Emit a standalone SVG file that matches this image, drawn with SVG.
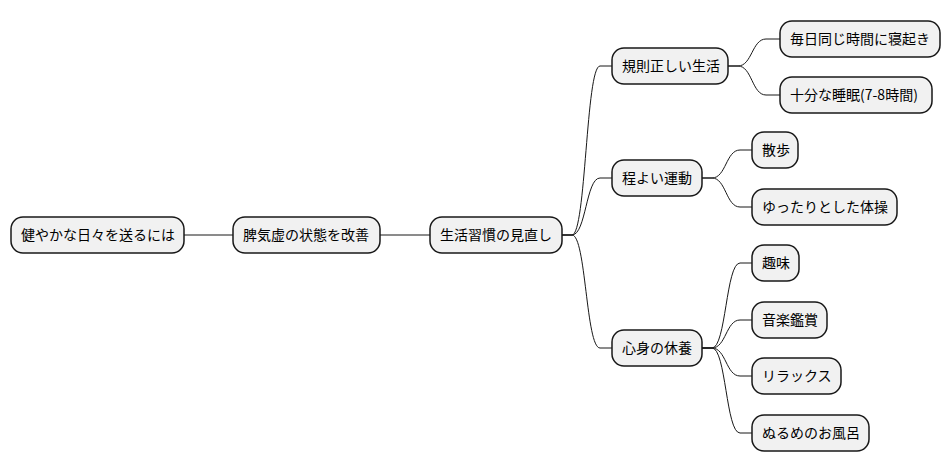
<svg xmlns="http://www.w3.org/2000/svg" width="950" height="471" viewBox="0 0 950 471">
<style>
.n rect{fill:#F1F1F1;stroke:#181818;stroke-width:1.5}
.n text{font-family:"Noto Sans CJK JP","Noto Sans",sans-serif;font-size:14px;fill:#000}
#edges path{fill:none;stroke:#181818;stroke-width:1}
</style>
<rect width="950" height="471" fill="#FFFFFF"/>
<g id="edges">
<path d="M184,235 L233,235"/>
<path d="M380,235 L430,235"/>
<path d="M562,235 L572,235 C586,235 586,66 600,66 L612,66"/>
<path d="M562,235 L572,235 C586,235 586,178 600,178 L612,178"/>
<path d="M562,235 L572,235 C586,235 586,348 600,348 L612,348"/>
<path d="M728,66 L738,66 C752,66 752,39 766,39 L780,39"/>
<path d="M728,66 L738,66 C752,66 752,95 766,95 L780,95"/>
<path d="M702,178 L712,178 C726,178 726,150 740,150 L752,150"/>
<path d="M702,178 L712,178 C726,178 726,207 740,207 L752,207"/>
<path d="M702,348 L712,348 C726,348 726,263 740,263 L752,263"/>
<path d="M702,348 L712,348 C726,348 726,320 740,320 L752,320"/>
<path d="M702,348 L712,348 C726,348 726,376 740,376 L752,376"/>
<path d="M702,348 L712,348 C726,348 726,433 740,433 L752,433"/>
</g>
<g id="root" class="n"><rect x="11" y="217" width="173" height="36" rx="12"/><text x="21" y="240">健やかな日々を送るには</text></g>
<g id="n1" class="n"><rect x="233" y="217" width="147" height="36" rx="12"/><text x="243" y="240">脾気虚の状態を改善</text></g>
<g id="n2" class="n"><rect x="430" y="217" width="132" height="36" rx="12"/><text x="440" y="240">生活習慣の見直し</text></g>
<g id="n3" class="n"><rect x="612" y="48" width="116" height="36" rx="12"/><text x="622" y="71">規則正しい生活</text></g>
<g id="n4" class="n"><rect x="780" y="21" width="160" height="36" rx="12"/><text x="790" y="44">毎日同じ時間に寝起き</text></g>
<g id="n5" class="n"><rect x="780" y="77" width="152" height="36" rx="12"/><text x="790" y="100">十分な睡眠(7-8時間)</text></g>
<g id="n6" class="n"><rect x="612" y="160" width="90" height="36" rx="12"/><text x="622" y="183">程よい運動</text></g>
<g id="n7" class="n"><rect x="752" y="132" width="46" height="36" rx="12"/><text x="762" y="155">散歩</text></g>
<g id="n8" class="n"><rect x="752" y="189" width="145" height="36" rx="12"/><text x="762" y="212">ゆったりとした体操</text></g>
<g id="n9" class="n"><rect x="612" y="330" width="90" height="36" rx="12"/><text x="622" y="353">心身の休養</text></g>
<g id="n10" class="n"><rect x="752" y="245" width="47" height="36" rx="12"/><text x="762" y="268">趣味</text></g>
<g id="n11" class="n"><rect x="752" y="302" width="75" height="36" rx="12"/><text x="762" y="325">音楽鑑賞</text></g>
<g id="n12" class="n"><rect x="752" y="358" width="89" height="36" rx="12"/><text x="762" y="381">リラックス</text></g>
<g id="n13" class="n"><rect x="752" y="415" width="117" height="36" rx="12"/><text x="762" y="438">ぬるめのお風呂</text></g>
</svg>
